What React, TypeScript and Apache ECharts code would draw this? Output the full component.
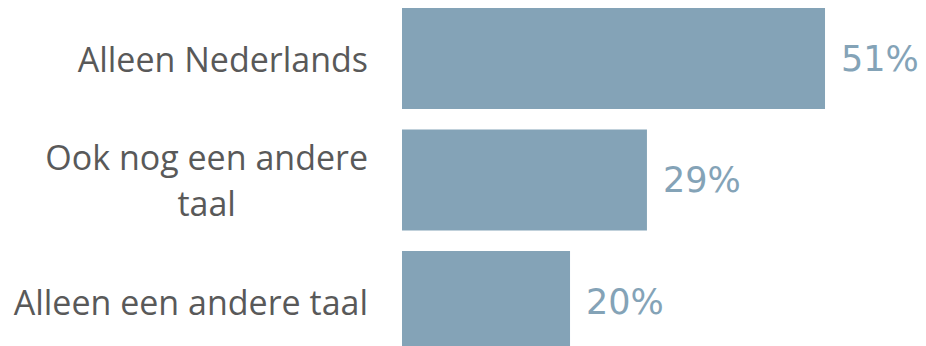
import React, { useEffect, useRef } from "react";
import * as echarts from "echarts";

const categories = ["Alleen Nederlands", "Ook nog een andere\ntaal", "Alleen een andere taal"];
const values = [50.6, 29.3, 20.1];

export default function App() {
  const ref = useRef<HTMLDivElement>(null);
  useEffect(() => {
    document.body.style.margin = "0";
    const chart = echarts.init(ref.current!, null, { renderer: "svg" });
    chart.setOption({
      animation: false,
      grid: { left: 402, right: 22.4, top: 27.75, bottom: 27.75, containLabel: false },
      xAxis: { type: "value", min: 0, max: 60, show: false, splitLine: { show: false } },
      yAxis: {
        type: "category",
        inverse: true,
        data: categories,
        axisLine: { show: false },
        axisTick: { show: false },
        axisLabel: {
          margin: 34,
          formatter: (v: string) => v.split("\n").map((l) => `{c|${l}}`).join("\n"),
          rich: {
            c: {
              align: "center",
              fontFamily: "Open Sans",
              fontSize: 34,
              color: "#595959",
              lineHeight: 46,
            },
          },
        },
      },
      series: [
        {
          type: "bar",
          data: values,
          barCategoryGap: "17%",
          itemStyle: { color: "#84a3b7" },
          label: {
            show: true,
            position: "right",
            distance: 16,
            fontFamily: "DejaVu Sans",
            fontSize: 35,
            color: "#84a3b7",
            formatter: (p: any) => `${Math.round(p.value)}%`,
          },
        },
      ],
    });
    return () => chart.dispose();
  }, []);
  return (
    <div style={{ position: "relative", width: 926, height: 346, overflow: "hidden" }}>
      <div ref={ref} style={{ position: "absolute", left: 0, top: -30, width: 926, height: 420 }} />
    </div>
  );
}
